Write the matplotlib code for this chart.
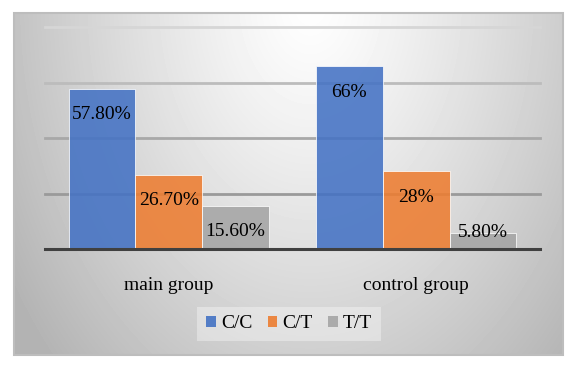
import numpy as np
import matplotlib.pyplot as plt
from matplotlib.patches import Patch, Rectangle

groups = ['main group', 'control group']
genotypes = ['C/C', 'C/T', 'T/T']
cc = [57.8, 66.0]
ct = [26.7, 28.0]
tt = [15.6, 5.8]
labels_cc = ['57.80%', '66%']
labels_ct = ['26.70%', '28%']
labels_tt = ['15.60%', '5.80%']
colors = ['#4472C4', '#ED7D31', '#A5A5A5']
grid_ticks = [20, 40, 60, 80]
grid_colors = ['#9a9a9a', '#a8a8a8', '#bcbcbc', '#d6d6d6']

plt.rcParams['font.family'] = ['Liberation Serif', 'DejaVu Serif']

W, H = 575, 371
fig = plt.figure(figsize=(W / 100, H / 100), dpi=100)

# background panel with a soft gradient, like the office chart area
x0, x1, y0, y1 = 14, 563, 13, 355
bg = fig.add_axes([x0 / W, 1 - y1 / H, (x1 - x0) / W, (y1 - y0) / H], zorder=0)
gx, gy = np.meshgrid(np.arange(x0, x1), np.arange(y0, y1))
d = np.sqrt(((gx - 310) / 290.0) ** 2 + ((gy - 0) / 420.0) ** 2)
shade = 1.0 - 0.23 * np.clip(d, 0, 1.25) ** 1.2
bg.imshow(shade, cmap='gray', vmin=0, vmax=1, aspect='auto', interpolation='bilinear')
bg.set_axis_off()
fig.patches.append(Rectangle((x0 / W, 1 - y1 / H), (x1 - x0) / W, (y1 - y0) / H,
                             transform=fig.transFigure, fill=False,
                             edgecolor='#bdbdbd', linewidth=1.5, zorder=1))

ax = fig.add_axes([45 / W, 1 - 249 / H, 495 / W, (249 - 27.5) / H], zorder=2)
ax.set_facecolor('none')

x = np.arange(len(groups))
w = 0.27
series = [(cc, labels_cc), (ct, labels_ct), (tt, labels_tt)]
for i, (vals, labs) in enumerate(series):
    pos = x + (i - 1) * w
    ax.bar(pos, vals, w, color=colors[i], alpha=0.88, edgecolor='white',
           linewidth=0.6, zorder=3, label=genotypes[i])
    for xp, v, lab in zip(pos, vals, labs):
        ax.annotate(lab, (xp, max(v, 15.2)), xytext=(0, -12.5), textcoords='offset points',
                    ha='center', va='top', fontsize=14, color='black', zorder=4)

for t, c in zip(grid_ticks, grid_colors):
    ax.axhline(t, color=c, linewidth=2, zorder=2, clip_on=False)

ax.set_xlim(-0.5, 1.5)
ax.set_ylim(0, 80)
ax.set_yticks([])
ax.set_xticks(x)
ax.set_xticklabels(groups, fontsize=14)
ax.tick_params(axis='x', length=0, pad=20)
for s in ['top', 'right', 'left']:
    ax.spines[s].set_visible(False)
ax.spines['bottom'].set_color('#404040')
ax.spines['bottom'].set_linewidth(2.2)
ax.spines['bottom'].set_zorder(5)

handles = [Patch(facecolor=c, alpha=0.9) for c in colors]
leg = fig.legend(handles, genotypes, loc='center', bbox_to_anchor=(289 / W, 1 - 324 / H),
                 ncol=3, fontsize=14, handlelength=0.5, handleheight=0.5,
                 handletextpad=0.25, columnspacing=0.8, borderpad=0.45,
                 frameon=True, fancybox=False)
leg.get_frame().set_facecolor('white')
leg.get_frame().set_alpha(0.35)
leg.get_frame().set_edgecolor('none')

plt.savefig('out.png', dpi=100)
